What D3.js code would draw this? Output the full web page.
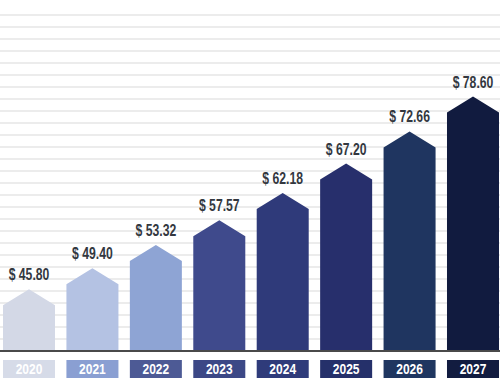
<!DOCTYPE html>
<html>
<head>
<meta charset="utf-8">
<script src="https://cdn.jsdelivr.net/npm/d3@7"></script>
<style>
  body { margin: 0; background: #fff; }
  svg { display: block; }
</style>
</head>
<body>
<svg id="chart" width="500" height="383"></svg>
<script>
const years = ["2020", "2021", "2022", "2023", "2024", "2025", "2026", "2027"];
const values = [45.80, 49.40, 53.32, 57.57, 62.18, 67.20, 72.66, 78.60];
const barColors = ["#d3d8e6", "#b4c2e3", "#8ea4d4", "#3f4a8c", "#2f3a7a", "#272f6c", "#1f3560", "#111b3f"];
const boxColors = ["#d6dbe8", "#8a9fd2", "#4d5a95", "#3c4886", "#2f3b7a", "#25306a", "#1f3660", "#121c40"];

const svg = d3.select("#chart");
const W = 500, baseY = 350;
const font = "'Liberation Sans', Arial, sans-serif";

let x = d3.scaleBand()
    .domain(years)
    .range([3, 499])
    .paddingInner(0.18)
    .paddingOuter(0);

// value axis does not start at zero
let y = d3.scaleLinear()
    .domain([38.2, 78.6])
    .range([baseY, 112.5]);

const tip = 16; // height of the pointed top

// background stripes
let grid = svg.append("g");
grid.selectAll("line")
    .data(d3.range(1, 29))
    .enter()
    .append("line")
    .attr("x1", 0).attr("x2", W)
    .attr("y1", d => baseY + 1 - d * 12)
    .attr("y2", d => baseY + 1 - d * 12)
    .attr("stroke", "#ececec")
    .attr("stroke-width", 2);

let data = years.map((yr, i) => ({ year: yr, value: values[i], bar: barColors[i], box: boxColors[i] }));

// bars with arrow heads
svg.append("g").selectAll("path")
    .data(data)
    .enter()
    .append("path")
    .attr("fill", d => d.bar)
    .attr("d", d => {
        let x0 = x(d.year), x1 = x0 + x.bandwidth(), xm = x0 + x.bandwidth() / 2;
        let top = y(d.value);
        return `M${x0},${baseY}L${x0},${top}L${xm},${top - tip}L${x1},${top}L${x1},${baseY}Z`;
    });

// baseline
svg.append("line")
    .attr("x1", 0).attr("x2", W)
    .attr("y1", baseY + 1).attr("y2", baseY + 1)
    .attr("stroke", "#4a4a4a")
    .attr("stroke-width", 2);

// value labels (condensed look via horizontal squeeze)
svg.append("g").selectAll("text")
    .data(data)
    .enter()
    .append("text")
    .attr("transform", d => `translate(${x(d.year) + x.bandwidth() / 2},${y(d.value) - tip - 9}) scale(0.74,1)`)
    .attr("text-anchor", "middle")
    .attr("font-family", font)
    .attr("font-weight", "bold")
    .attr("font-size", "16.5px")
    .attr("fill", "#33383f")
    .text(d => "$ " + d.value.toFixed(2));

// year boxes
let boxes = svg.append("g").selectAll("g")
    .data(data)
    .enter()
    .append("g");
boxes.append("rect")
    .attr("x", d => x(d.year))
    .attr("y", 360)
    .attr("width", x.bandwidth())
    .attr("height", 18)
    .attr("fill", d => d.box);
boxes.append("text")
    .attr("transform", d => `translate(${x(d.year) + x.bandwidth() / 2},369) scale(0.8,1)`)
    .attr("dy", "0.36em")
    .attr("text-anchor", "middle")
    .attr("font-family", font)
    .attr("font-weight", "bold")
    .attr("font-size", "15px")
    .attr("fill", "#ffffff")
    .text(d => d.year);
</script>
</body>
</html>
